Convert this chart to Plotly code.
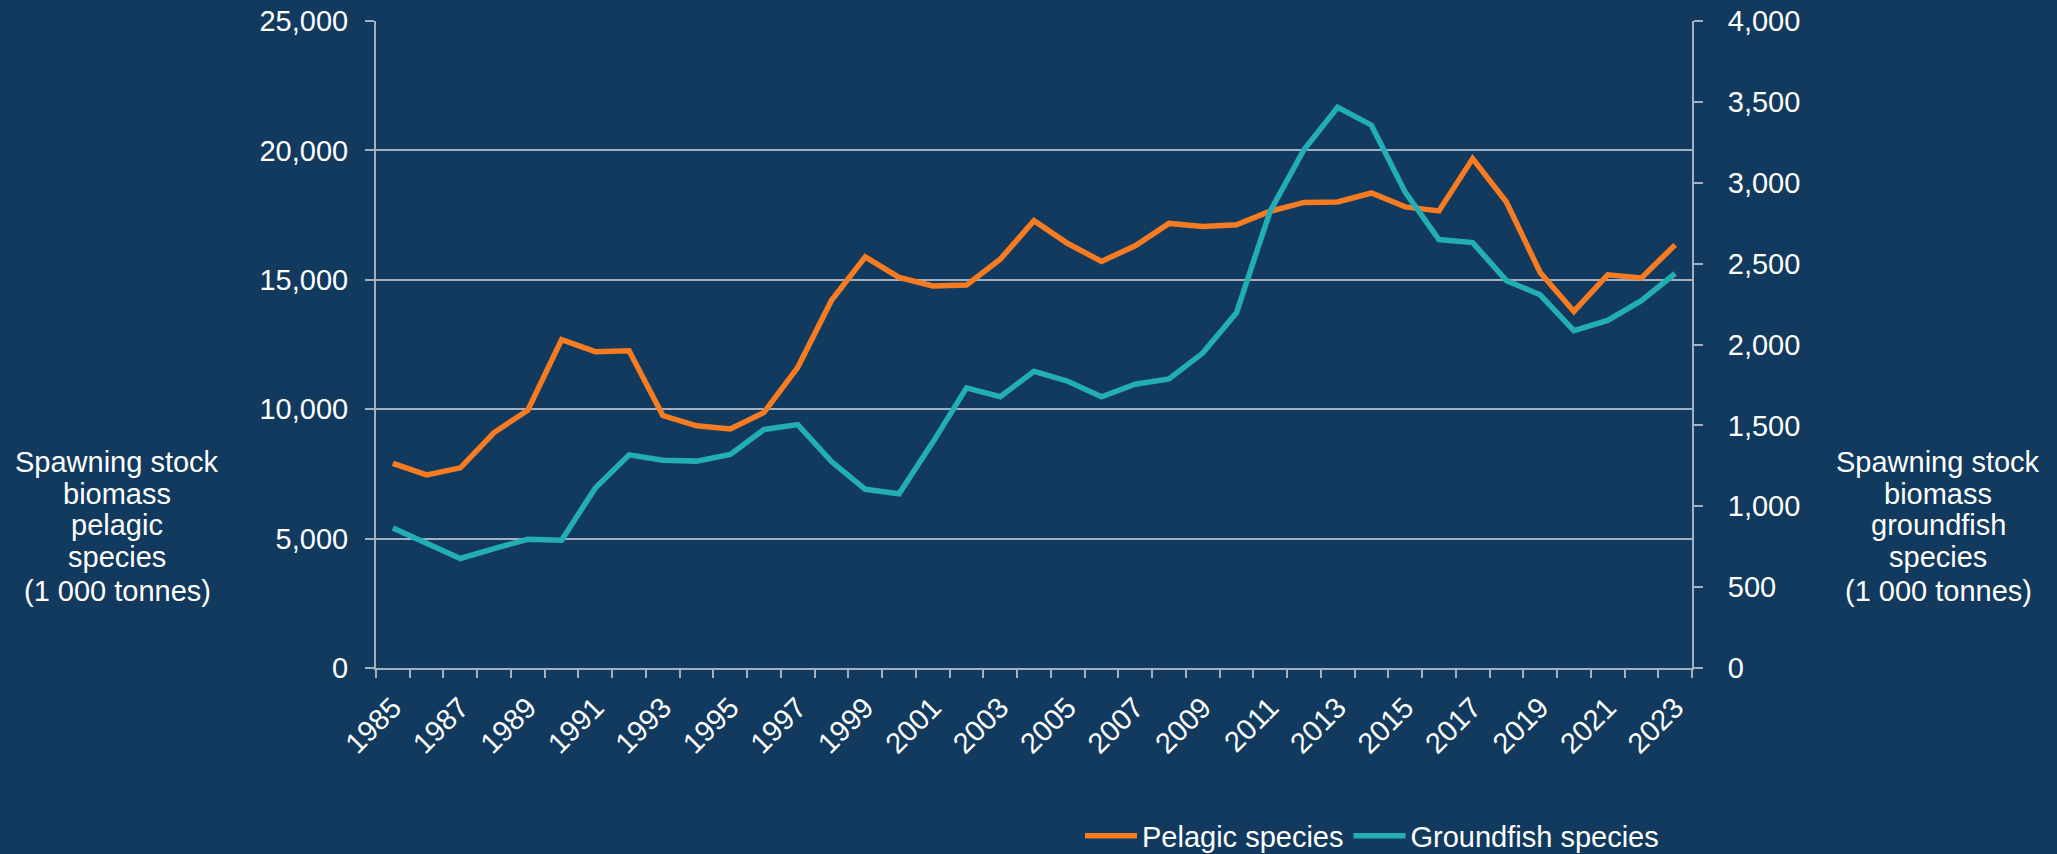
import plotly.graph_objects as go

years = list(range(1985, 2024))
pelagic = [7907, 7459, 7735, 9099, 9962, 12690, 12224, 12258, 9755, 9358,
           9237, 9876, 11619, 14209, 15884, 15090, 14762, 14796, 15797, 17282,
           16402, 15711, 16315, 17179, 17058, 17127, 17650, 17990, 18007, 18353,
           17817, 17662, 19682, 18007, 15280, 13778, 15193, 15072, 16350]
groundfish = [865, 768, 677, 738, 796, 790, 1113, 1318, 1285, 1279,
              1320, 1475, 1505, 1276, 1105, 1077, 1395, 1732, 1677, 1834,
              1773, 1677, 1754, 1787, 1947, 2196, 2825, 3204, 3467, 3356,
              2942, 2649, 2630, 2395, 2307, 2086, 2149, 2271, 2439]
year_labels = [str(y) for y in years[::2]]
left_title = ["Spawning stock", "biomass", "pelagic", "species", "(1 000 tonnes)"]
right_title = ["Spawning stock", "biomass", "groundfish", "species", "(1 000 tonnes)"]

BG = "#113a5e"
GRID = "#a3b0bf"
ORANGE = "#f67b21"
TEAL = "#23aeb3"
FONT = "Liberation Sans, Arial, sans-serif"
FS = 29

fig = go.Figure()
fig.add_trace(go.Scatter(x=years, y=pelagic, name="Pelagic species", mode="lines",
                         line=dict(color=ORANGE, width=5.5), yaxis="y"))
fig.add_trace(go.Scatter(x=years, y=groundfish, name="Groundfish species", mode="lines",
                         line=dict(color=TEAL, width=5.5), yaxis="y2"))

W, H = 2057, 854
L, R, T, B = 376, 2057 - 1692, 21, 854 - 668
pw, ph = W - L - R, H - T - B

fig.update_layout(
    width=W, height=H,
    margin=dict(l=L, r=R, t=T, b=B, pad=0, autoexpand=False),
    paper_bgcolor=BG, plot_bgcolor=BG,
    font=dict(family=FONT, size=FS, color="#ffffff"),
    showlegend=True,
    legend=dict(orientation="h", x=(1080 - L) / pw, xanchor="left",
                y=(668 - 836) / ph, yanchor="middle",
                font=dict(size=FS, color="#ffffff"), bgcolor="rgba(0,0,0,0)",
                itemwidth=52, tracegroupgap=0),
    xaxis=dict(range=[1984.5, 2023.5], tickmode="array", tickvals=years[::2],
               ticktext=year_labels, tickangle=-45, ticks="", showgrid=False,
               zeroline=False, showline=True, linecolor=GRID, linewidth=2,
               ticklabelstandoff=9, automargin=False,
               minor=dict(tickmode="linear", tick0=1984.5, dtick=1, ticks="outside",
                          ticklen=8, tickcolor=GRID, tickwidth=2, showgrid=False),
               tickfont=dict(size=FS, color="#ffffff")),
    yaxis=dict(range=[0, 25000], dtick=5000, tickformat=",", showgrid=True,
               gridcolor=GRID, gridwidth=2, zeroline=False, showline=True,
               linecolor=GRID, linewidth=2, ticks="outside", ticklen=9,
               tickcolor=GRID, tickwidth=2, ticklabelstandoff=11, automargin=False,
               tickfont=dict(size=FS, color="#ffffff")),
    yaxis2=dict(range=[0, 4000], dtick=500, tickformat=",", overlaying="y",
                side="right", showgrid=False, zeroline=False, showline=True,
                linecolor=GRID, linewidth=2, ticks="outside", ticklen=9,
                tickcolor=GRID, tickwidth=2, ticklabelstandoff=19, automargin=False,
                tickfont=dict(size=FS, color="#ffffff")),
    hovermode=False,
)

line_y = [462, 494, 525, 557, 591]
for txt, yy in zip(left_title, line_y):
    fig.add_annotation(text=txt, xref="paper", yref="paper",
                       x=(117 - L) / pw, y=(668 - yy) / ph,
                       xanchor="center", yanchor="middle", showarrow=False,
                       font=dict(size=FS, color="#ffffff", family=FONT))
for txt, yy in zip(right_title, line_y):
    fig.add_annotation(text=txt, xref="paper", yref="paper",
                       x=(1938 - L) / pw, y=(668 - yy) / ph,
                       xanchor="center", yanchor="middle", showarrow=False,
                       font=dict(size=FS, color="#ffffff", family=FONT))

fig.write_html("out.html", config={"displayModeBar": False},
               post_script="document.body.style.margin='0';document.body.style.overflow='hidden';")
